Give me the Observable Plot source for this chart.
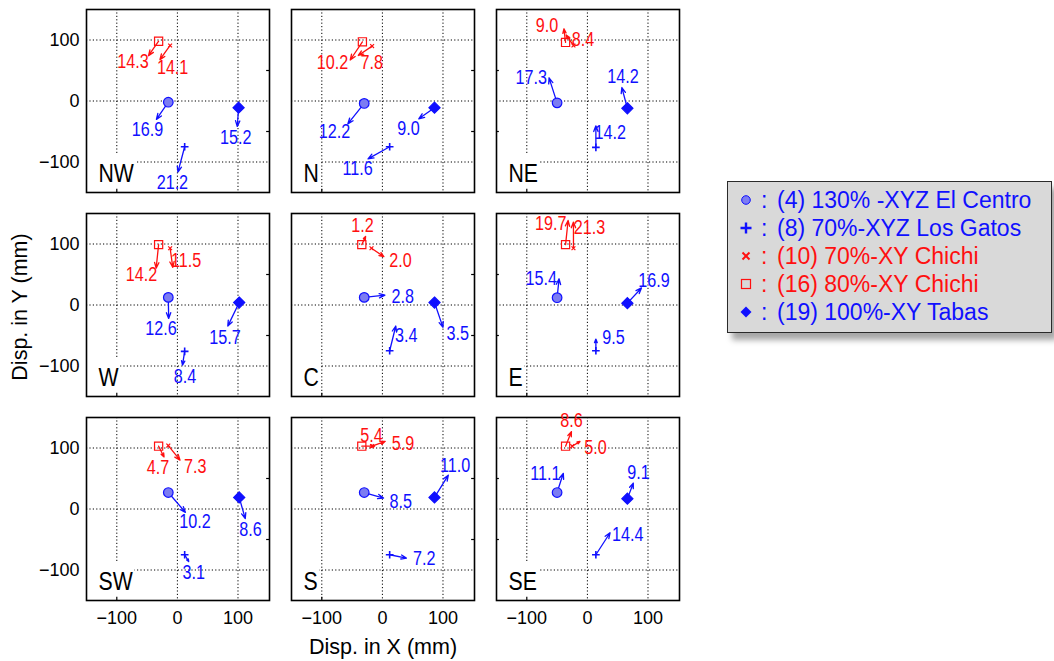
<!DOCTYPE html>
<html>
<head>
<meta charset="utf-8">
<script src="https://cdn.jsdelivr.net/npm/d3@7"></script>
<script src="https://cdn.jsdelivr.net/npm/@observablehq/plot@0.6"></script>
<style>
  body { margin: 0; background: #fff; font-family: "Liberation Sans", Arial, sans-serif; }
  #wrap { position: relative; width: 1054px; height: 661px; overflow: hidden; }
  #chart { position: absolute; left: 0; top: 0; }
  .axis-title { position: absolute; font-size: 21.5px; color: #000; white-space: nowrap; line-height: 22px; }
  #xtitle { left: 283px; top: 636px; width: 200px; text-align: center; }
  #ytitle { left: 20px; top: 307px; transform: translate(-50%, -50%) rotate(-90deg); }
  #legend { position: absolute; left: 727px; top: 181px; width: 323px; height: 150px;
            background: #d9d9d9; border: 1.5px solid #2a2a2a; box-shadow: 5px 7px 6px rgba(0,0,0,0.35); }
  .lrow { position: absolute; left: 0; height: 28px; width: 100%; font-size: 23px; line-height: 28px; }
  .lrow svg { position: absolute; left: 12px; top: 8px; }
  .lrow .colon { position: absolute; left: 33px; }
  .lrow .name { position: absolute; left: 49px; white-space: nowrap; }
</style>
</head>
<body>
<div id="wrap">
  <div id="chart"></div>
  <div id="xtitle" class="axis-title">Disp. in X (mm)</div>
  <div id="ytitle" class="axis-title">Disp. in Y (mm)</div>
  <div id="legend"></div>
</div>
<script>
// Nine sensor locations, laid out as a 3x3 grid (row-major).
const panels = ["NW", "N", "NE", "W", "C", "E", "SW", "S", "SE"];

// Ground-motion records shown in every panel.
const recordNames = [
  "(4) 130% -XYZ El Centro",
  "(8) 70%-XYZ Los Gatos",
  "(10) 70%-XY Chichi",
  "(16) 80%-XY Chichi",
  "(19) 100%-XY Tabas"
];

// Marker position (mm) of each record in each panel.
const markerX = [
  [-15, -30, -50, -15, -30, -50, -15, -30, -50],
  [12, 12, 14, 12, 12, 14, 12, 12, 14],
  [-12, -17, -23, -12, -18, -23, -15, -17, -25],
  [-31, -33, -36, -31, -34, -36, -31, -34, -36],
  [101, 86, 66, 102, 86, 66, 102, 86, 66]
];
const markerY = [
  [-2, -4, -3, 12.5, 12.5, 12, 27, 27, 27],
  [-75, -75, -76, -76, -75, -75, -75, -75, -75],
  [91, 90, 91, 93, 93, 93, 104, 103, 103],
  [98, 97, 96, 99, 99, 99, 103, 103, 103],
  [-11, -11, -12, 4, 4, 3, 19, 19, 17]
];

// Vector magnitude written next to each arrow.
const magnitude = [
  [16.9, 12.2, 17.3, 12.6, 2.8, 15.4, 10.2, 8.5, 11.1],
  [21.2, 11.6, 14.2, 8.4, 3.4, 9.5, 3.1, 7.2, 14.4],
  [14.1, 7.8, 8.4, 11.5, 2.0, 21.3, 7.3, 5.9, 5.0],
  [14.3, 10.2, 9.0, 14.2, 1.2, 19.7, 4.7, 5.4, 8.6],
  [15.2, 9.0, 14.2, 15.7, 3.5, 16.9, 8.6, 11.0, 9.1]
];

// Vector direction (degrees, counter-clockwise from +X).
const direction = [
  [-125, -129, 108, -89, 6, 84, -49, -16, 72],
  [-105, -151, 90, -99, 76, 90, -59, -11, 57],
  [-126, -146, 125, -82, -34, 90, -51, 20, 31],
  [-125, -124, 97, -96, 65, 84, -63, 0, 68],
  [-94, -145, 105, -116, -71, 47, -74, 58, 69]
];

// Side of the arrow tip on which each value label sits (degrees).
const labelSide = [
  [-120, -138, 175, -115, -8, 175, -58, -17, 178],
  [-108, -125, -37, -82, -54, 10, -74, -3, -10],
  [-45, -41, -20, 42, -22, -27, -32, -10, -30],
  [-150, -170, 160, -145, 100, -166, -110, 100, 90],
  [-95, -125, 86, -99, -35, 46, -73, 68, 73]
];

// Styling per record.
const recordSymbol = ["circle", "plus", "times", "square2", "diamond2"];
const recordStroke = ["#1010ff", "#1010ff", "#ff1010", "#ff1010", "#1010ff"];
const recordFill = ["#7c7cf2", "none", "none", "none", "#1010ff"];
const recordR = [4.8, 2.6, 1.9, 5.2, 5.0];

// Layout.
const W = 700, H = 661;
const mL = 86, mR = W - 680, mT = 7.5, mB = H - 600.5;
const pad = 0.105;
const xDomain = [-150, 152], yDomain = [-150, 150];
const bandW = (W - mL - mR) * (1 - pad) / (3 - pad);
const bandH = (H - mT - mB) * (1 - pad) / (3 - pad);
const kx = bandW / (xDomain[1] - xDomain[0]);   // px per mm
const ky = bandH / (yDomain[1] - yDomain[0]);
const arrowSpan = 43;             // mm length of the longest arrow in a panel
const labelHW = 18, labelHH = 11; // label offset from tip, px

const rad = (a) => a * Math.PI / 180;
const rows = [];
panels.forEach((p, i) => {
  const col = i % 3, row = Math.floor(i / 3);
  const vmax = d3.max(magnitude, (v) => v[i]);
  magnitude.forEach((vals, r) => {
    const len = vals[i] / vmax * arrowSpan;
    const a = rad(direction[r][i]), la = rad(labelSide[r][i]);
    const x = markerX[r][i], y = markerY[r][i];
    const x2 = x + len * Math.cos(a), y2 = y + len * Math.sin(a);
    rows.push({
      panel: p, col, row, record: r, x, y, x2, y2, value: vals[i],
      lx: x2 + Math.cos(la) * labelHW / kx,
      ly: y2 + Math.sin(la) * labelHH / ky
    });
  });
});

const ticks = [-100, 0, 100];
const minorTicks = [-50, 50];
const panelRows = panels.map((p, i) => ({p, col: i % 3, row: Math.floor(i / 3)}));
// Short inward frame ticks at ±50 mm (right edge, left edge on the last column).
const minorRows = panelRows.flatMap((d) => minorTicks.map((v) => ({...d, v})));
const tickLen = 3.5;

const arrowMarks = recordNames.map((_, r) => Plot.arrow(rows.filter((d) => d.record === r), {
  fx: "col", fy: "row", x1: "x", y1: "y", x2: "x2", y2: "y2",
  stroke: recordStroke[r], strokeWidth: 1.3, headLength: 7, headAngle: 42
}));
const dotMarks = recordNames.map((_, r) => Plot.dot(rows.filter((d) => d.record === r), {
  fx: "col", fy: "row", x: "x", y: "y", symbol: recordSymbol[r], r: recordR[r],
  stroke: recordStroke[r], fill: recordFill[r], strokeWidth: r === 1 ? 1.6 : 1.2
}));
const labelMarks = recordNames.map((_, r) => Plot.text(rows.filter((d) => d.record === r), {
  fx: "col", fy: "row", x: "lx", y: "ly", text: (d) => d.value.toFixed(1),
  fill: recordStroke[r], fontSize: 21, textAnchor: "middle", lineAnchor: "middle", className: "vlabel"
}));

const chart = Plot.plot({
  width: W, height: H,
  marginLeft: mL, marginRight: mR, marginTop: mT, marginBottom: mB,
  style: {fontFamily: "'Liberation Sans', Arial, sans-serif", fontSize: "18px", color: "#000", background: "transparent"},
  fx: {domain: [0, 1, 2], paddingInner: pad, paddingOuter: 0, axis: null},
  fy: {domain: [0, 1, 2], paddingInner: pad, paddingOuter: 0, axis: null},
  x: {domain: xDomain, ticks, tickSize: 0, tickPadding: 11, label: null},
  y: {domain: yDomain, ticks, tickSize: 0, tickPadding: 7, label: null},
  marks: [
    Plot.ruleX(ticks, {stroke: "#000", strokeWidth: 1, strokeDasharray: "1.2,2.2"}),
    Plot.ruleY(ticks, {stroke: "#000", strokeWidth: 1, strokeDasharray: "1.2,2.2"}),
    Plot.text(panelRows, {fx: "col", fy: "row", text: "p", frameAnchor: "bottom-left",
      textAnchor: "start", lineAnchor: "bottom", dx: 12, dy: -10.5, fontSize: 25, fill: "#000", className: "dlabel"}),
    Plot.ruleY(minorRows.filter((d) => d.col < 2), {fx: "col", fy: "row", y: "v", stroke: "#000", strokeWidth: 1.2, insetLeft: bandW - tickLen}),
    Plot.ruleY(minorRows.filter((d) => d.col === 2), {fx: "col", fy: "row", y: "v", stroke: "#000", strokeWidth: 1.2, insetRight: bandW - tickLen}),
    Plot.ruleX(panelRows, {fx: "col", fy: "row", x: () => ticks[0], stroke: "#000", strokeWidth: 1.2, insetTop: bandH - tickLen}),
    Plot.frame({stroke: "#000", strokeWidth: 1.6}),
    ...arrowMarks,
    ...dotMarks,
    ...labelMarks
  ]
});
document.getElementById("chart").appendChild(chart);

// White boxes behind the location names so the grid stops at them.
chart.querySelectorAll(".dlabel text").forEach((t) => {
  const b = t.getBBox();
  const rect = document.createElementNS("http://www.w3.org/2000/svg", "rect");
  rect.setAttribute("x", b.x - 14);
  rect.setAttribute("y", b.y - 4);
  rect.setAttribute("width", b.width + 18);
  rect.setAttribute("height", b.height + 9);
  rect.setAttribute("fill", "#fff");
  if (t.getAttribute("transform")) rect.setAttribute("transform", t.getAttribute("transform"));
  t.parentNode.insertBefore(rect, t);
});

// Narrow the figure lettering horizontally about each text's anchor.
function squeeze(nodes, s) {
  nodes.forEach((el) => {
    const x = parseFloat(el.getAttribute("x") || "0") || 0;
    const T = el.getAttribute("transform") || "";
    el.setAttribute("transform", `${T} translate(${x},0) scale(${s},1) translate(${-x},0)`);
  });
}
squeeze(chart.querySelectorAll(".vlabel text"), 0.77);
squeeze(chart.querySelectorAll(".dlabel text, .dlabel rect"), 0.85);

// Legend.
const legend = document.getElementById("legend");
const glyphs = [
  '<circle cx="6" cy="6" r="4.3" fill="#7c7cf2" stroke="#1010ff" stroke-width="1"/>',
  '<path d="M6 0.5V11.5M0.5 6H11.5" stroke="#1010ff" stroke-width="2.4"/>',
  '<path d="M2.5 2.5L9.5 9.5M2.5 9.5L9.5 2.5" stroke="#ff1010" stroke-width="2"/>',
  '<rect x="1.5" y="1.5" width="9" height="9" fill="none" stroke="#ff1010" stroke-width="1.2"/>',
  '<path d="M6 0.5L11.5 6L6 11.5L0.5 6Z" fill="#1010ff"/>'
];
recordNames.forEach((name, r) => {
  const row = document.createElement("div");
  row.className = "lrow";
  row.style.top = (4 + r * 28) + "px";
  row.style.color = recordStroke[r];
  row.innerHTML = `<svg width="12" height="12">${glyphs[r]}</svg><span class="colon">:</span><span class="name">${name}</span>`;
  legend.appendChild(row);
});
</script>
</body>
</html>
